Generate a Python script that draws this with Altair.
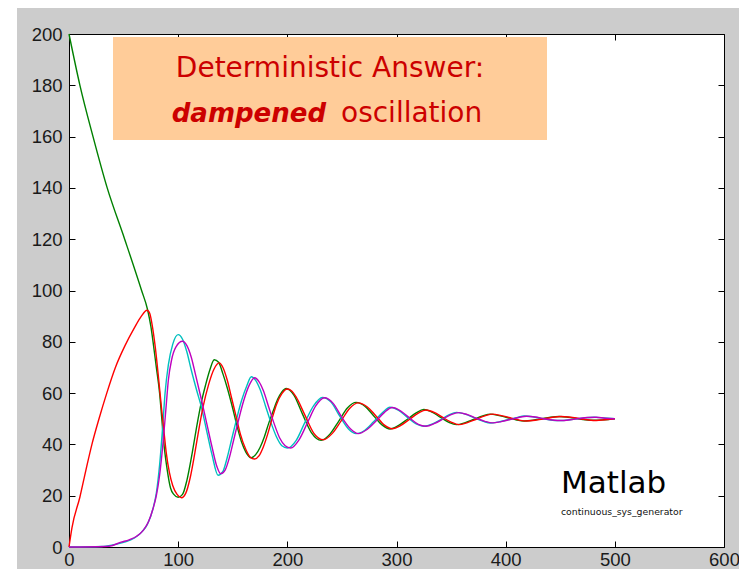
import altair as alt
import pandas as pd

x_ticks = [0, 100, 200, 300, 400, 500, 600]
y_ticks = [0, 20, 40, 60, 80, 100, 120, 140, 160, 180, 200]

green_t = [0,10,22,35,51,66.5,72,75,77,80,83,85,87,90,93,96,100,104,108,113,117,121,125,129,133,137,
           141,145,150,154,158,162,167,171,175,179,183,187,191,195,199,206,214,222,231,239,247,255,263,271,
           279,287,294,302,310,318,325,333,340,348,355,363,371,379,386,394,402,410,417,425,433,441,449,457,
           465,473,481,490,500]
green_v = [200,180,160,140,120,100,92.5,86,80,70,60,50,40,30,23,20.5,19.4,20.5,26,37,47,56,63,69,73,72,
           67.5,62,54,47,41,37,34.8,36,38.8,43,48.3,53,57.5,60.5,61.8,59.2,51.7,44.6,41.6,44,49,54.2,56.4,54.9,
           51.2,47.5,46.0,47.4,49.8,52.3,53.6,52.5,50.6,48.6,47.7,48.5,49.8,51.1,51.8,51.2,50.4,49.5,49.1,49.4,
           50.0,50.6,50.9,50.6,50.1,49.6,49.4,49.6,50.0]

red_t = [0,2.7,10,15.5,21,27.5,34.6,42.5,51.3,60,66,71.5,74,76,79,82,85,87,89,92,95,99,103,107,111,115,
         119,123,128,133,137.5,141,145,149,153,157,162,166,170,174,178,182,186,190,195,200,204,208,216,224,
         233,241,249,257,265,273,281,289,296,304,312,320,327,335,342,350,357,365,373,381,388,396,404,412,
         419,427,435,443,451,459,467,475,483,491,500]
red_v = [0,7.5,19.5,30,40,50,60,70,78.5,85.5,89.8,92.3,91,87,78,66,53,45,37,29,24,20.5,19.2,21,27,36,
         46,55,63.5,69.5,71.8,70,65,58,51,44,38,35,34.3,35.5,39,44,50,55.5,59.8,61.6,60.8,58.5,51.5,44.5,
         41.8,44.2,49,54,56.2,54.7,51.2,47.5,46.1,47.4,49.8,52.2,53.4,52.4,50.6,48.7,47.7,48.5,49.8,51.1,
         51.8,51.2,50.4,49.5,49.1,49.4,50.0,50.6,50.9,50.6,50.1,49.6,49.3,49.6,50.0]

cyan_t = [0,30,40,50,60,67,72,77,80,83,86,88,91,95,100,104,108,112,117,121,126,131,136.5,141,145,149,
          153,158,163,167,171,175,180,185,190,195,200,208,216,224,232,240,248,256,263,271,279,287,294,302,
          310,318,325,333,341,348,355,363,371,379,386,394,402,410,417,425,433,441,449,457,465,473,481,490,500]
cyan_v = [0,0.2,0.8,1.8,3.5,6,9,15,21,32,48,60,71,79,82.8,81,76,69,61,55,45.5,36,28,29.5,35,42,
          49,57,63,66.4,65,61.5,55,48.5,43,39.5,38.6,41.5,48.5,55,58.3,56.5,51,46,44.2,45.5,48.8,52.3,54.5,53.3,
          50.5,48,47.1,48,49.8,51.5,52.5,51.8,50.4,49.1,48.3,48.8,49.6,50.4,51.1,50.8,50.1,49.5,49.3,49.5,
          50.0,50.4,50.6,50.3,50.0]

magenta_t = [0,33,40,47,55,62,68,73,77,80,83,86,89,91,94,98,104,108,112,116,121,126,131,135,139,143,
             147,151,155,160,165,170,174,178,183,188,193,198,203,211,219,226,234,242,250,258,265,273,281,289,
             296,304,312,320,327,335,343,350,357,365,373,381,388,396,404,412,419,427,435,443,451,459,467,475,
             483,491,500]
magenta_v = [0,0.2,0.6,1.8,2.8,4.2,6.5,10,15,20,28,40,55,65,73,78,80.2,78.5,74,67,58,48.5,39,32,28.6,30,
             35,42,49,57,63,66,64.5,61,54.5,48,42.5,39.5,38.6,42,49,55,58.2,56,50.5,46,44.2,45.8,49,52.5,
             54.4,53,50.3,47.8,47.1,48.2,50,51.6,52.4,51.6,50.2,49,48.4,48.9,49.7,50.5,51,50.7,50,49.5,
             49.3,49.6,50.1,50.5,50.6,50.2,50]

W, H = 655, 513
PL, PT, PR, PB = 61, 26, 15, 22
xs = alt.Scale(domain=[0, 600], nice=False, zero=False)
ys = alt.Scale(domain=[0, 200], nice=False, zero=False)
LF = "Liberation Sans"
TF = "DejaVu Sans"

common = dict(domain=False, grid=False, title=None, tickColor="black", tickSize=6,
              offset=-6, labelFlush=False, labelOverlap=False, labelBound=False)
ax_bottom = alt.Axis(orient="bottom", values=x_ticks, labelPadding=3, labelFont=LF,
                     labelFontSize=18.5, labelColor="#1a1a1a", **common)
ax_top = alt.Axis(orient="top", values=x_ticks, labels=False, **common)
ax_left = alt.Axis(orient="left", values=y_ticks, labelPadding=7, labelFont=LF,
                   labelFontSize=18.5, labelColor="#1a1a1a", **common)
ax_right = alt.Axis(orient="right", values=y_ticks, labels=False, **common)


def line(t, v, color, xa=None, ya=None):
    d = pd.DataFrame({"t": t, "v": v})
    return alt.Chart(d).mark_line(color=color, strokeWidth=1.4, interpolate="monotone").encode(
        x=alt.X("t:Q", scale=xs, axis=xa),
        y=alt.Y("v:Q", scale=ys, axis=ya),
    )


one = alt.Data(values=[{"k": 1}])

strip = alt.Chart(one).mark_rect(color="white").encode(
    x=alt.value(-PL), x2=alt.value(-PL + 9), y=alt.value(-PT), y2=alt.value(H + PB))

box = alt.Chart(one).mark_rect(color="#FFCC99").encode(
    x=alt.value(44), x2=alt.value(478), y=alt.value(3), y2=alt.value(106))

t1 = alt.Chart(one).mark_text(text="Deterministic Answer:", font=TF, fontSize=28, color="#CC0000",
                              align="center", baseline="alphabetic").encode(
    x=alt.value(261), y=alt.value(43))
t2a = alt.Chart(one).mark_text(text="dampened", font=TF, fontSize=26, fontWeight="bold",
                               fontStyle="italic", color="#CC0000", align="right",
                               baseline="alphabetic").encode(x=alt.value(257), y=alt.value(88))
t2b = alt.Chart(one).mark_text(text="oscillation", font=TF, fontSize=28, color="#CC0000",
                               align="left", baseline="alphabetic").encode(x=alt.value(272), y=alt.value(88))
t3 = alt.Chart(one).mark_text(text="Matlab", font=TF, fontSize=31, color="black",
                              align="left", baseline="alphabetic").encode(x=alt.value(492), y=alt.value(459))
t4 = alt.Chart(one).mark_text(text="continuous_sys_generator", font=TF, fontSize=9.3, color="#111111",
                              align="left", baseline="alphabetic").encode(x=alt.value(492), y=alt.value(481))

chart = alt.layer(
    line(green_t, green_v, "#008000", ax_bottom, ax_left),
    line(cyan_t, cyan_v, "#00BFBF", ax_top, ax_right),
    line(red_t, red_v, "#FF0000"),
    line(magenta_t, magenta_v, "#BF00BF"),
    box, t1, t2a, t2b, t3, t4, strip,
).resolve_axis(x="independent", y="independent").properties(
    width=W, height=H,
    autosize=alt.AutoSizeParams(type="none"),
    padding={"left": PL, "top": PT, "right": PR, "bottom": PB},
    background="#CCCCCC",
).configure_view(fill="white", stroke="black", strokeWidth=1)

chart.save("out.html", embed_options={"renderer": "svg", "actions": False})
